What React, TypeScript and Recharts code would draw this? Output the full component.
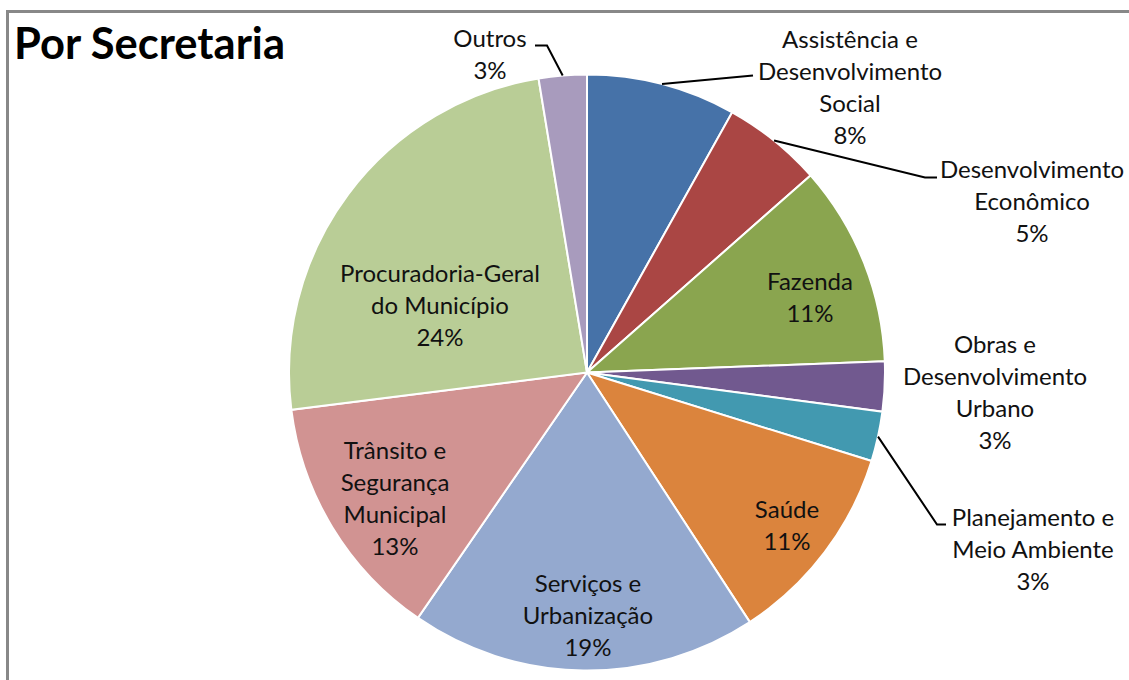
import React from 'react';
import {PieChart, Pie, Cell} from 'recharts';

// category names, line breaks as they are wrapped in the chart
const categories = [
    'Assistência e\nDesenvolvimento\nSocial',
    'Desenvolvimento\nEconômico',
    'Fazenda',
    'Obras e\nDesenvolvimento\nUrbano',
    'Planejamento e\nMeio Ambiente',
    'Saúde',
    'Serviços e\nUrbanização',
    'Trânsito e\nSegurança\nMunicipal',
    'Procuradoria-Geral\ndo Município',
    'Outros',
];

// share of each secretaria (%)
const shares = [8.1, 5.4, 10.9, 2.7, 2.7, 11.0, 18.8, 13.4, 24.4, 2.6];

const colors = [
    '#4672A8', '#AA4644', '#8AA54F', '#71598F', '#4299B0',
    '#DB843D', '#94A9CF', '#D19392', '#B9CD96', '#A89BBD',
];

const data = categories.map((name, i) => ({name, value: shares[i]}));

// where each label block sits, as an offset from the pie centre, plus optional leader bends
const labelPlacement: {dx: number, dy: number, leader?: number[][]}[] = [
    {dx: 263, dy: -286, leader: [[166, -297]]},
    {dx: 445, dy: -172, leader: [[338, -195], [350, -195]]},
    {dx: 223, dy: -76},
    {dx: 408, dy: 19},
    {dx: 446, dy: 176, leader: [[350, 152], [359, 152]]},
    {dx: 200, dy: 152},
    {dx: 1, dy: 242},
    {dx: -192, dy: 125},
    {dx: -147, dy: -68},
    {dx: -97, dy: -319, leader: [[-40, -327], [-52, -327]]},
];

const LINE_H = 31.7;
const FONT = 'Lato, "Open Sans", sans-serif';

const renderLabel = (props: any) => {
    const {cx, cy, midAngle, outerRadius, index, percent} = props;
    const place = labelPlacement[index];
    const lines = categories[index].split('\n').concat(`${Math.round(percent * 100)}%`);
    const tx = cx + place.dx;
    const top = cy + place.dy - (lines.length - 1) * LINE_H / 2;

    let leader = null;
    if (place.leader) {
        const rad = -midAngle * Math.PI / 180;
        const pts = [[cx + outerRadius * Math.cos(rad), cy + outerRadius * Math.sin(rad)]]
            .concat(place.leader.map(([x, y]) => [cx + x, cy + y]));
        leader = <polyline points={pts.map(p => p.join(',')).join(' ')} fill="none" stroke="#000" strokeWidth={2}/>;
    }

    return (
        <g>
            {leader}
            <text textAnchor="middle" fontFamily={FONT} fontSize={24} fill="#111">
                {lines.map((l, i) => (
                    <tspan key={i} x={tx} y={top + i * LINE_H} dominantBaseline="central">{l}</tspan>
                ))}
            </text>
        </g>
    );
};

export default function App() {
    return (
        <div style={{
            position: 'fixed', left: 6, top: 10, width: 1120, height: 670,
            borderLeft: '3px solid #888', borderTop: '3px solid #888', background: '#fff',
        }}>
            <div style={{
                position: 'absolute', left: 5, top: 3, fontFamily: FONT, fontWeight: 700,
                fontSize: 43.5, lineHeight: 1.2, color: '#000',
            }}>
                Por Secretaria
            </div>
            <PieChart width={1120} height={667} margin={{top: 0, right: 0, bottom: 0, left: 0}}>
                <Pie
                    data={data}
                    dataKey="value"
                    nameKey="name"
                    cx={578}
                    cy={359.5}
                    outerRadius={298}
                    startAngle={90}
                    endAngle={-270}
                    stroke="#fff"
                    strokeWidth={2}
                    label={renderLabel}
                    labelLine={false}
                    isAnimationActive={false}
                >
                    {data.map((d, i) => <Cell key={d.name} fill={colors[i]}/>)}
                </Pie>
            </PieChart>
        </div>
    );
}
